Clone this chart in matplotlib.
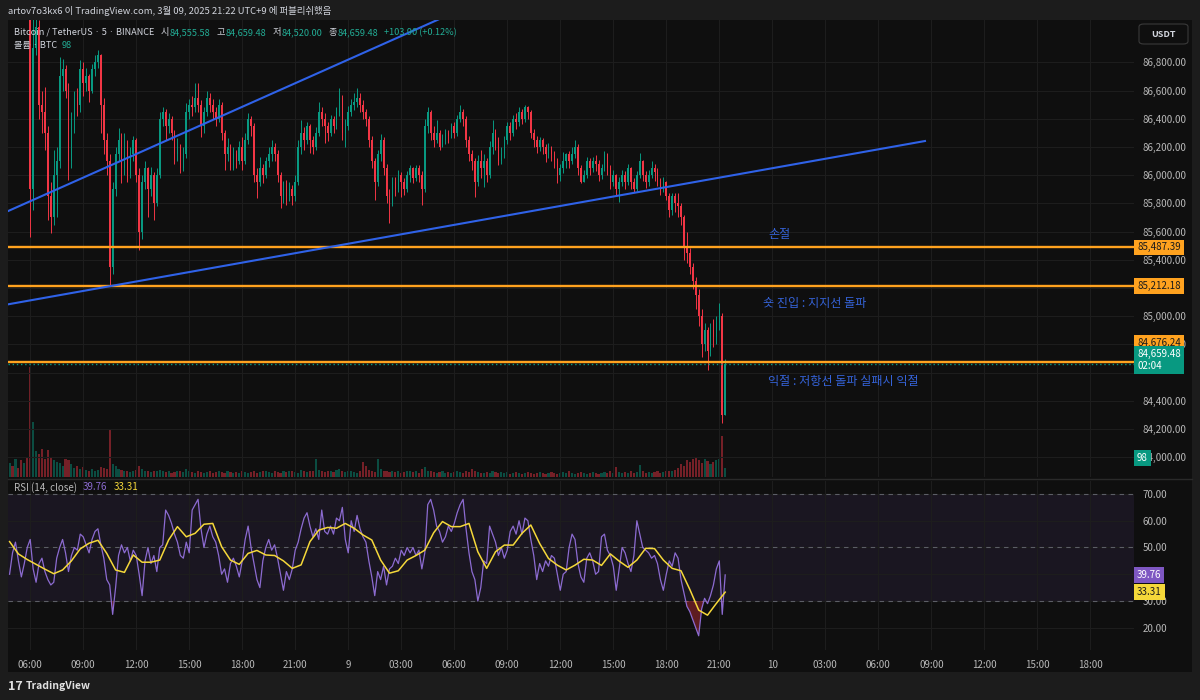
import numpy as np
import matplotlib.pyplot as plt
import matplotlib.transforms as mtransforms
from matplotlib.patches import Rectangle, FancyBboxPatch
from matplotlib.lines import Line2D

plt.rcParams['font.family'] = ['Noto Sans CJK KR', 'DejaVu Sans']

W, H = 1200, 700

# ---- data (10-minute candles, BTC/USDT) ----
t_start = 4 + 50 / 60      # 04:50 on the 8th, in hours since 8th 00:00
t_step = 1 / 6
first_open = 87300

closes = [
    87380, 87320, 87420, 87350, 87280, 87300, 87250,
    85900, 86900, 87050, 86500, 86450, 86300, 85850, 85700, 86000, 86100,
    86700, 86750, 86600, 86100, 86400, 86550, 86500, 86750, 86650, 86700,
    86600, 86750, 86800, 86850, 86500, 86250, 86100, 85350, 85900, 86150,
    86250, 86050, 86200, 86000, 86150, 86250, 86000, 85600, 85950, 86050,
    85900, 86000, 85800, 86000, 86400, 86450, 86350, 86400, 86300, 86150,
    86200, 86050, 86150, 86450, 86500, 86480, 86550, 86500, 86350, 86450,
    86550, 86500, 86450, 86400, 86500, 86300, 86150, 86200, 86050, 86150,
    86100, 86200, 86100, 86250, 86400, 86350, 86000, 85950, 86050, 86000,
    86100, 86150, 86200, 86150, 86000, 85850, 85900, 85850, 85900, 85850,
    85950, 86200, 86300, 86250, 86350, 86250, 86200, 86300, 86450, 86400,
    86350, 86300, 86400, 86350, 86450, 86550, 86300, 86350, 86450, 86500,
    86520, 86550, 86500, 86450, 86400, 86250, 86100, 85950, 86150, 86250,
    86050, 85850, 85800, 85950, 85900, 86000, 85950, 85900, 86000, 86050,
    85980, 86050, 86000, 85900, 86350, 86450, 86300, 86250, 86300, 86200,
    86250, 86300, 86280, 86350, 86300, 86400, 86450, 86400, 86250, 86150,
    86100, 85950, 86100, 86050, 86100, 86000, 86200, 86300, 86250, 86100,
    86150, 86250, 86350, 86300, 86400, 86380, 86450, 86400, 86480, 86450,
    86300, 86250, 86200, 86250, 86200, 86150, 86200, 86150, 86100, 86000,
    86050, 86100, 86150, 86100, 86150, 86200, 86050, 85950, 86000, 86100,
    86050, 86100, 86080, 86000, 86050, 86150, 86050, 85950, 86000, 85900,
    85950, 86000, 85950, 86050, 85950, 85900, 86000, 86100, 86000, 85950,
    86000, 86050, 86020, 85950, 85900, 85950, 85850, 85750, 85850, 85800,
    85780, 85700, 85500, 85450, 85350, 85250, 85150, 85000, 84800, 84900,
    84750, 84900, 84850, 84950, 85000, 84300, 84659.48,
]
highs = [
    87450, 87420, 87480, 87450, 87380, 87350, 87320,
    87300, 87150, 87200, 87100, 86600, 86625, 86350, 85950, 86178, 86200,
    86837, 86820, 86780, 86650, 86450, 86600, 86620, 86815, 86800, 86760,
    86720, 86790, 86850, 86887, 86860, 86550, 86300, 86150, 85950, 86200,
    86335, 86300, 86300, 86250, 86200, 86280, 86260, 86050, 86000, 86100,
    86060, 86060, 86020, 86050, 86450, 86483, 86470, 86440, 86420, 86320,
    86260, 86220, 86200, 86510, 86540, 86560, 86650, 86655, 86530, 86480,
    86600, 86580, 86540, 86480, 86540, 86520, 86320, 86260, 86220, 86200,
    86180, 86240, 86270, 86300, 86440, 86420, 86370, 86050, 86130, 86080,
    86130, 86200, 86250, 86230, 86180, 86020, 85960, 85966, 85950, 85930,
    86000, 86250, 86390, 86340, 86380, 86360, 86280, 86340, 86520, 86480,
    86440, 86380, 86430, 86420, 86480, 86620, 86570, 86400, 86490, 86540,
    86580, 86620, 86580, 86530, 86470, 86420, 86280, 86120, 86180, 86290,
    86270, 86080, 85900, 85990, 85990, 86035, 86020, 85980, 86030, 86070,
    86060, 86070, 86070, 86030, 86400, 86485, 86460, 86350, 86390, 86320,
    86290, 86330, 86320, 86370, 86380, 86430, 86500, 86470, 86420, 86280,
    86180, 86120, 86140, 86178, 86150, 86120, 86240, 86390, 86330, 86270,
    86200, 86280, 86380, 86380, 86430, 86440, 86480, 86470, 86497, 86490,
    86460, 86330, 86280, 86270, 86265, 86220, 86230, 86210, 86170, 86120,
    86080, 86165, 86160, 86170, 86200, 86250, 86220, 86070, 86040, 86130,
    86120, 86130, 86140, 86110, 86080, 86170, 86160, 86070, 86040, 86010,
    85990, 86040, 86030, 86080, 86060, 85980, 86030, 86157, 86110, 86030,
    86040, 86100, 86080, 86050, 85980, 85990, 85960, 85875, 85875, 85870,
    85875, 85800, 85720, 85600, 85480, 85380, 85280, 85190, 85050, 84950,
    84920, 84950, 84980, 85000, 85093, 85020, 84700,
]
lows = [
    87250, 87280, 87300, 87300, 87200, 87200, 87180,
    85560, 85750, 86850, 86400, 86300, 86178, 85683, 85590, 85650, 85700,
    86050, 86600, 86550, 85966, 86050, 86300, 86420, 86450, 86560, 86600,
    86520, 86580, 86700, 86760, 86300, 86150, 86000, 85220, 85300, 85850,
    86100, 85945, 86000, 85950, 85980, 86100, 85950, 85470, 85550, 85900,
    85700, 85850, 85680, 85780, 85980, 86350, 86250, 86300, 86250, 86080,
    86100, 86015, 86030, 86120, 86400, 86420, 86450, 86450, 86270, 86300,
    86420, 86450, 86400, 86350, 86380, 86250, 86035, 86100, 86035, 86040,
    86050, 86080, 86035, 86080, 86220, 86280, 85950, 85840, 85920, 85945,
    85980, 86060, 86100, 86100, 85950, 85768, 85800, 85790, 85820, 85790,
    85820, 85930, 86150, 86180, 86220, 86155, 86150, 86180, 86280, 86350,
    86228, 86240, 86280, 86300, 86330, 86420, 86250, 86200, 86320, 86420,
    86460, 86480, 86450, 86400, 86350, 86200, 86050, 85825, 85920, 86100,
    86000, 85800, 85660, 85780, 85850, 85880, 85845, 85860, 85880, 85950,
    85945, 85960, 85950, 85790, 85880, 86300, 86250, 86200, 86230, 86180,
    86200, 86220, 86230, 86260, 86260, 86280, 86380, 86350, 86200, 86100,
    86040, 85845, 85920, 85980, 85915, 85950, 85980, 86150, 86180, 86070,
    86080, 86120, 86220, 86250, 86280, 86330, 86350, 86360, 86380, 86400,
    86260, 86200, 86155, 86170, 86150, 86090, 86120, 86100, 86050, 85944,
    85960, 86015, 86050, 86050, 86080, 86120, 86000, 85944, 85950, 85980,
    86000, 86020, 86030, 85960, 85970, 86030, 86000, 85900, 85920, 85860,
    85810, 85920, 85900, 85930, 85900, 85880, 85890, 85980, 85960, 85910,
    85920, 85980, 85960, 85920, 85860, 85880, 85825, 85700, 85720, 85740,
    85700, 85650, 85400, 85380, 85300, 85190, 85050, 84930, 84714, 84750,
    84620, 84720, 84780, 84800, 84900, 84243, 84300,
]
volumes = [
    150, 120, 200, 100, 180, 150, 220,
    1200, 600, 280, 250, 300, 200, 290, 220, 180, 160,
    150, 120, 200, 180, 140, 100, 120, 90, 110, 80,
    70, 90, 60, 80, 110, 100, 90, 520, 140, 120,
    90, 80, 70, 60, 50, 60, 80, 120, 90, 70,
    60, 50, 60, 70, 80, 60, 50, 60, 40, 50,
    60, 70, 50, 90, 60, 50, 40, 60, 50, 40,
    50, 60, 40, 50, 60, 50, 40, 60, 50, 40,
    50, 40, 60, 50, 40, 50, 60, 40, 50, 60,
    70, 50, 40, 60, 50, 40, 60, 50, 60, 70,
    50, 40, 80, 60, 50, 60, 70, 200, 80, 60,
    50, 70, 60, 50, 80, 90, 60, 50, 70, 60,
    50, 40, 60, 165, 120, 80, 60, 50, 200, 90,
    70, 60, 50, 60, 50, 60, 40, 50, 60, 70,
    50, 60, 40, 90, 110, 70, 60, 50, 40, 50,
    60, 40, 50, 40, 50, 60, 50, 40, 60, 50,
    90, 60, 50, 40, 40, 50, 40, 60, 50, 40,
    50, 40, 50, 30, 40, 50, 40, 30, 40, 50,
    40, 30, 40, 50, 40, 30, 40, 50, 40, 30,
    40, 50, 40, 60, 40, 30, 40, 50, 40, 30,
    40, 50, 40, 30, 40, 50, 40, 60, 40, 110,
    50, 40, 50, 40, 60, 40, 50, 130, 60, 40,
    50, 40, 50, 60, 40, 50, 60, 70, 60, 80,
    100, 140, 120, 180, 160, 200, 220, 180, 150, 200,
    170, 140, 160, 180, 200, 450, 98,
]
rsi = [
    40, 48, 52, 45, 39, 44, 50, 53, 42, 37,
    44, 46, 41, 38, 36, 37, 46, 50, 53, 48,
    41, 47, 50, 49, 55, 54, 51, 48, 53, 56,
    57, 51, 46, 38, 36, 25, 35, 47, 51, 48,
    50, 45, 49, 47, 40, 32, 45, 50, 44, 47,
    41, 50, 51, 64, 62, 59, 55, 52, 47, 46,
    52, 48, 64, 66, 68, 57, 50, 55, 58, 54,
    52, 47, 40, 42, 37, 44, 46, 43, 39, 45,
    53, 58, 50, 44, 38, 35, 45, 50, 53, 49,
    51, 46, 40, 34, 41, 38, 42, 49, 52, 57,
    61, 63, 58, 54, 57, 53, 64, 56, 55, 58,
    55, 61, 60, 65, 53, 48, 60, 56, 62, 57,
    54, 52, 45, 39, 32, 41, 38, 43, 36, 42,
    43, 46, 44, 49, 47, 50, 48, 50, 47, 49,
    42, 48, 66, 68, 64, 58, 56, 52, 54, 58,
    56, 59, 63, 66, 68, 57, 48, 41, 38, 30,
    35, 45, 44, 58, 55, 52, 47, 50, 46, 49,
    56, 58, 55, 60, 55, 61, 60, 53, 47, 38,
    44, 41, 45, 43, 47, 46, 40, 34, 40, 41,
    50, 55, 53, 44, 39, 37, 46, 48, 45, 40,
    41, 54, 55, 49, 47, 43, 34, 42, 50, 48,
    44, 41, 47, 60, 55, 50, 49, 48, 46, 47,
    44, 38, 34, 40, 45, 43, 48, 46, 38, 33,
    28, 26, 23, 20, 17, 27, 31, 29, 32, 36,
    42, 45, 25, 39.76,
]
# RSI-based MA, one value every third candle
rsi_ma = [
    52.2, 47.6, 45.5, 43.7, 41.9, 40.2, 41.6, 45.0, 49.5, 51.6,
    52.7, 47.8, 41.6, 40.7, 47.2, 44.5, 44.5, 45.3, 52.8, 57.8,
    54.0, 55.3, 58.7, 59.0, 50.3, 45.3, 43.7, 47.8, 48.9, 47.2,
    47.0, 45.0, 42.2, 43.5, 52.2, 56.5, 57.5, 57.2, 59.0, 57.2,
    54.7, 52.8, 45.3, 40.4, 41.3, 45.3, 47.0, 49.0, 55.5, 59.7,
    57.8, 57.8, 59.0, 48.4, 42.2, 48.4, 50.9, 50.9, 55.3, 58.4,
    51.5, 45.9, 43.4, 41.6, 43.4, 45.6, 45.3, 43.3, 47.6, 44.9,
    42.6, 45.3, 49.7, 49.6, 45.3, 42.2, 41.3, 34.3, 26.6, 24.7,
    29.1, 33.31,
]

# price-scale labels; some are hidden behind the value tags on the chart
price_ticks = [84000, 84200, 84400, 84600, 84800, 85000, 85200, 85400,
               85600, 85800, 86000, 86200, 86400, 86600, 86800]
price_hidden = [85200, 84600]
rsi_ticks = [20, 30, 40, 50, 60, 70]
rsi_hidden = [40]
x_ticks = [6, 9, 12, 15, 18, 21, 24, 27, 30, 33, 36, 39, 42, 45, 48, 51, 54,
           57, 60, 63, 66]
x_labels = ["06:00", "09:00", "12:00", "15:00", "18:00", "21:00", "9",
            "03:00", "06:00", "09:00", "12:00", "15:00", "18:00", "21:00",
            "10", "03:00", "06:00", "09:00", "12:00", "15:00", "18:00"]

levels = [85487.39, 85212.18, 84676.24]
last_price = 84659.48
last_volume = 98
rsi_last, ma_last = 39.76, 33.31
upper_trend = [(4.76, 85746), (18.44, 86509)]
lower_trend = [(10.61, 85215), (56.64, 86242)]
notes = [("손절", 47.75, 85576),
         ("숏 진입 : 지지선 돌파", 47.47, 85090),
         ("익절 : 저항선 돌파 실패시 익절", 47.75, 84534)]
legend_values = [("시", "84,555.58"), ("고", "84,659.48"),
                 ("저", "84,520.00"), ("종", "84,659.48")]
legend_change = "+103.90 (+0.12%)"

# ---- colours ----
BG = '#0f0f0f'
FRAME = '#1c1c1c'
GRID = '#1d1d1d'
TXT = '#b8b8b8'
GREEN = '#089981'
RED = '#f23645'
ORANGE = '#ffa21f'
BLUE = '#2f62e8'
PURPLE = '#8c6bd1'
YELLOW = '#f5d83a'
LEG_GREEN = '#22ab94'


def frac(l, t, r, b):
    return [l / W, 1 - b / H, (r - l) / W, (b - t) / H]


fig = plt.figure(figsize=(W / 100, H / 100), dpi=100, facecolor=FRAME)
fig.add_artist(Rectangle((8 / W, 1 - 672 / H), 1184 / W, 652 / H,
                         transform=fig.transFigure, facecolor=BG,
                         edgecolor='none', zorder=-5))

ax = fig.add_axes(frac(8, 20, 1134, 477))
ax_vol = ax.twinx()
ax_rsi = fig.add_axes(frac(8, 481, 1134, 650), sharex=ax)

ax_vol.set_zorder(1)
ax.set_zorder(2)
ax_rsi.set_zorder(2)
for a in (ax, ax_vol, ax_rsi):
    a.patch.set_visible(False)
    for s in a.spines.values():
        s.set_visible(False)

t = t_start + np.arange(len(closes)) * t_step
closes = np.array(closes, dtype=float)
highs = np.array(highs, dtype=float)
lows = np.array(lows, dtype=float)
opens = np.r_[first_open, closes[:-1]]
colors = np.where(closes >= opens, GREEN, RED)

xlim = (4.744, 68.47)
ax.set_xlim(*xlim)
ax.set_ylim(83860, 87100)
ax_vol.set_ylim(0, 4976)
ax_rsi.set_ylim(11.68, 74.86)

# grid
ax.set_xticks(x_ticks)
ax.set_yticks(price_ticks)
ax.grid(True, color=GRID, lw=0.8, zorder=0)
ax_rsi.set_yticks(rsi_ticks)
ax_rsi.grid(True, color=GRID, lw=0.8, zorder=0)

# candles and volume
ax_vol.bar(t, volumes, width=0.12, color=colors, alpha=0.45, lw=0)
ax_vol.set_yticks([])
ax.vlines(t, lows, highs, colors=colors, lw=0.7, zorder=3)
ax.bar(t, closes - opens, bottom=opens, width=0.09, color=colors, lw=0,
       zorder=4)

# horizontal levels and trend lines
for lv in levels:
    ax.axhline(lv, color=ORANGE, lw=1.7, zorder=5)
ax.axhline(last_price, color=GREEN, lw=1.0, ls=(0, (1, 2)), zorder=5)

(ua, pa), (ub, pb) = upper_trend
slope_u = (pb - pa) / (ub - ua)
ux = np.array([xlim[0], 31.0])
ax.plot(ux, pa + slope_u * (ux - ua), color=BLUE, lw=1.5, zorder=5)
(la, qa), (lb, qb) = lower_trend
slope_l = (qb - qa) / (lb - la)
lx = np.array([xlim[0], lb])
ax.plot(lx, qa + slope_l * (lx - la), color=BLUE, lw=1.5, zorder=5)

for s, tx, py in notes:
    ax.text(tx, py, s, color='#3563d9', fontsize=8.7, ha='left', va='center',
            zorder=6)

# RSI panel
ax_rsi.axhspan(30, 70, color='#7e57c2', alpha=0.1, lw=0, zorder=1)
for lv in (70, 50, 30):
    ax_rsi.axhline(lv, color='#787b86', lw=0.8, ls=(0, (4, 4)), alpha=0.7,
                   zorder=2)
rsi = np.array(rsi, dtype=float)
ax_rsi.fill_between(t, rsi, 30, where=rsi < 30, interpolate=True,
                    color=RED, alpha=0.35, lw=0, zorder=2)
ax_rsi.plot(t, rsi, color=PURPLE, lw=0.9, zorder=3)
t_ma = t_start + np.arange(0, len(closes), 3) * t_step
ax_rsi.plot(t_ma, rsi_ma, color=YELLOW, lw=1.1, zorder=4)

# axes ticks / labels
ax.yaxis.tick_right()
ax.set_yticklabels(["" if v in price_hidden else f"{v:,.2f}"
                    for v in price_ticks])
ax.tick_params(axis='y', length=0, pad=6, labelsize=7, labelcolor=TXT)
ax.tick_params(axis='x', length=0, labelbottom=False)
ax_rsi.yaxis.tick_right()
ax_rsi.set_yticklabels(["" if v in rsi_hidden else f"{v:.2f}"
                        for v in rsi_ticks])
ax_rsi.tick_params(axis='y', length=0, pad=6, labelsize=7, labelcolor=TXT)
ax_rsi.set_xticks(x_ticks)
ax_rsi.set_xticklabels(x_labels)
ax_rsi.tick_params(axis='x', length=0, pad=7, labelsize=7, labelcolor=TXT)

# price tags on the right scale
tag_x = (1137 - 8) / 1126


def tag(a, y, text, fc, tc, dy=0, size=7):
    tr = mtransforms.blended_transform_factory(a.transAxes, a.transData)
    tr = mtransforms.offset_copy(tr, fig=fig, y=dy, units='dots')
    a.text(tag_x, y, text, transform=tr, ha='left', va='center',
           fontsize=size, color=tc, clip_on=False, zorder=10,
           linespacing=1.25,
           bbox=dict(boxstyle='square,pad=0.3', fc=fc, ec='none'))


tag(ax, levels[0], f"{levels[0]:,.2f}", ORANGE, '#1a1a1a')
tag(ax, levels[1], f"{levels[1]:,.2f}", ORANGE, '#1a1a1a')
tag(ax, levels[2], f"{levels[2]:,.2f}", ORANGE, '#1a1a1a', dy=19)
tag(ax, last_price, f"{last_price:,.2f}\n02:04", GREEN, 'white', dy=4)
tag(ax, 84000, f"{last_volume}", GREEN, 'white', dy=-1)
tag(ax_rsi, rsi_last, f"{rsi_last:.2f}", '#7e57c2', 'white')
tag(ax_rsi, ma_last, f"{ma_last:.2f}", YELLOW, '#1a1a1a')

# USDT box
fig.add_artist(FancyBboxPatch((1139 / W, 1 - 44 / H), 49 / W, 20 / H,
                              boxstyle='round,pad=0,rounding_size=0.004',
                              transform=fig.transFigure, fc=BG,
                              ec='#3a3a3a', lw=0.8))
fig.text(1163 / W, 1 - 34.5 / H, "USDT", color='#d1d4dc', fontsize=6.5,
         ha='center', va='center', weight='bold')

# panel separator
fig.add_artist(Line2D([8 / W, 1192 / W], [1 - 479 / H, 1 - 479 / H],
                      color='#2a2a2a', lw=1))

# legend rows


def row(x_px, y_px, pieces, size=6.6):
    r = fig.canvas.get_renderer()
    x = x_px
    for txt, col, gap in pieces:
        x += gap
        tt = fig.text(x / W, 1 - y_px / H, txt, color=col, fontsize=size,
                      ha='left', va='center')
        x = tt.get_window_extent(r).x1


head = [("Bitcoin / TetherUS · 5 · BINANCE", '#d1d4dc', 0)]
for lab, val in legend_values:
    head += [(lab, '#d1d4dc', 6), (val, LEG_GREEN, 1)]
head += [(legend_change, LEG_GREEN, 6)]
row(14, 32.5, head)
row(14, 45.5, [("볼륨 · BTC", '#d1d4dc', 0), (f"{last_volume}", LEG_GREEN, 5)])
row(14, 487.5, [("RSI (14, close)", TXT, 0), (f"{rsi_last:.2f}", PURPLE, 6),
                (f"{ma_last:.2f}", YELLOW, 6)], size=7)

fig.text(8 / W, 1 - 11 / H,
         "artov7o3kx6 이 TradingView.com, 3월 09, 2025 21:22 UTC+9 에 퍼블리쉬했음",
         color='#d1d4dc', fontsize=6.8, ha='left', va='center')
fig.text(8 / W, 1 - 686 / H, "17", color='#e0e0e0', fontsize=9,
         weight='heavy', ha='left', va='center')
fig.text(26 / W, 1 - 686 / H, "TradingView", color='#e0e0e0', fontsize=7.5,
         weight='bold', ha='left', va='center')

fig.savefig('out.png', dpi=100, facecolor=fig.get_facecolor())
